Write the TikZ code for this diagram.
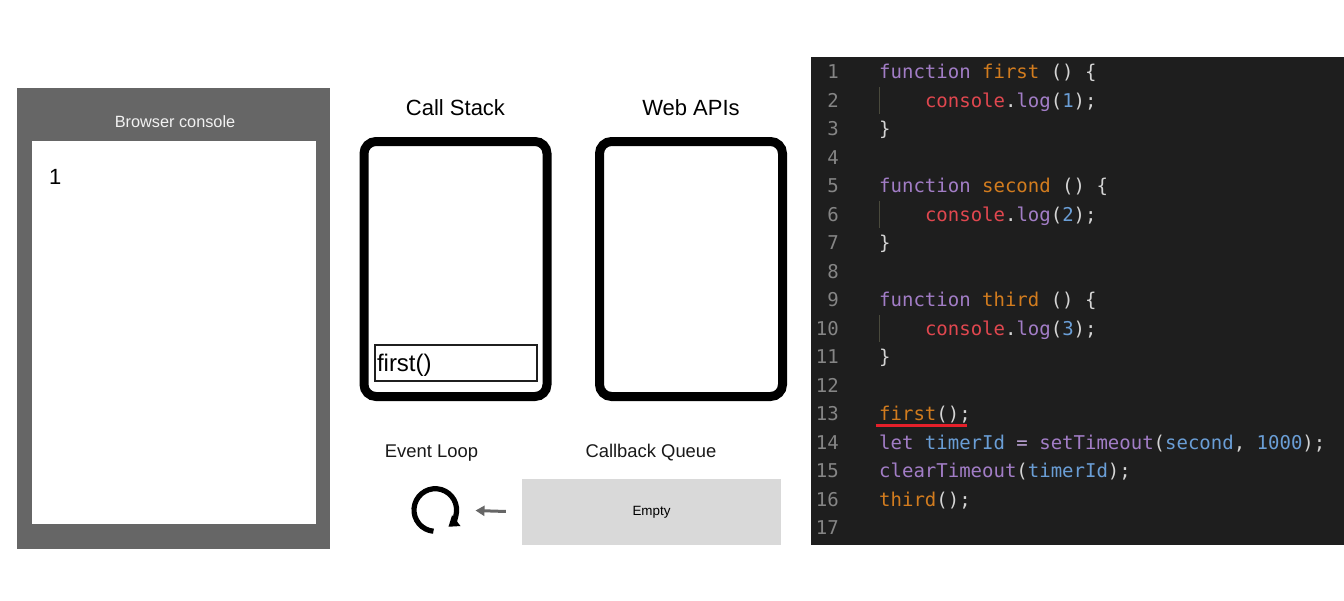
\documentclass[tikz,border=0pt]{standalone}
\usepackage{fontspec}
\setmainfont{Liberation Sans}
\newfontfamily\codefont{DejaVu Sans Mono}
\usetikzlibrary{arrows.meta}
\definecolor{consolegray}{HTML}{666666}
\definecolor{queuegray}{HTML}{D9D9D9}
\definecolor{codebg}{HTML}{1E1E1E}
\definecolor{lnumc}{HTML}{858585}
\definecolor{kw}{HTML}{A27DC6}
\definecolor{fn}{HTML}{D27C1E}
\definecolor{rd}{HTML}{E0474F}
\definecolor{bl}{HTML}{6A9ED6}
\definecolor{pn}{HTML}{D4D4D4}
\definecolor{guide}{HTML}{4A4A3C}
\definecolor{ulred}{HTML}{E5202A}
\definecolor{arrowgray}{HTML}{666666}
\tikzset{
  panel/.style={draw, line width=9pt, rounded corners=12pt, minimum width=183pt, minimum height=255pt, inner sep=0pt},
  title/.style={inner sep=0pt, text=black, font=\fontsize{22}{22}\selectfont},
  label/.style={inner sep=0pt, text=black!90, font=\fontsize{18.4}{18.4}\selectfont},
  codeline/.style={anchor=base west, inner sep=0pt, text=pn, font=\codefont\fontsize{19}{19}\selectfont},
  lnum/.style={anchor=base east, inner sep=0pt, text=lnumc, font=\codefont\fontsize{19}{19}\selectfont},
  flow/.style={draw=arrowgray, line width=3pt, -{Triangle[length=9pt,width=10pt]}}
}
\begin{document}
\begin{tikzpicture}[x=1pt,y=-1pt]
\useasboundingbox (0,0) rectangle (1344,600);
\fill[white] (0,0) rectangle (1344,600);
% Browser console
\node (console) [fill=consolegray, minimum width=313pt, minimum height=461pt, inner sep=0pt] at (173.5,318.5) {};
\node (consolein) [fill=white, minimum width=284pt, minimum height=383pt, inner sep=0pt] at (174,332.5) {};
\node (consoletitle) [inner sep=0pt, text=white!95!black, font=\fontsize{16.3}{16.3}\selectfont] at (175,122) {Browser console};
\node (out1) [anchor=base west, inner sep=0pt, font=\fontsize{22}{22}\selectfont] at (49,184) {1};
% Call stack and Web APIs
\node (cstitle) [title] at (455.5,108) {Call Stack};
\node (wtitle) [title] at (691,108) {Web APIs};
\node (cs) [panel] at (455.5,269) {};
\node (web) [panel] at (691,269) {};
\node (frame1) [draw=black!88, line width=2pt, minimum width=162pt, minimum height=36pt, text width=158pt, text height=21.5pt, text depth=5pt, inner xsep=2pt, inner ysep=0pt, align=left, font=\fontsize{24}{24}\selectfont] at (456,363) {first()};
% Event loop and callback queue
\node (eltitle) [label] at (431.5,453) {Event Loop};
\node (cqtitle) [label] at (651,453) {Callback Queue};
\node (cq) [fill=queuegray, minimum width=259pt, minimum height=66pt, inner sep=0pt, font=\fontsize{13.4}{13.4}\selectfont] at (651.5,512) {Empty};
\node (el) [circle, minimum size=48pt, inner sep=0pt] at (435.3,510) {};
\draw[line width=5.2pt, -{Triangle[length=10pt,width=13pt]}] (el.center) ++(95:21.3) arc[start angle=95, end angle=412, radius=21.3];
\draw[flow, shorten <=16pt, shorten >=16pt] (cq.west) -- (el.east);
% Code panel
\fill[codebg] (811,57) rectangle (1344,545);
\foreach \i in {1,...,17} {
  \node (ln\i) [lnum] at (839,{78.5+(\i-1)*28.5}) {\i};
}
\node (c1) [codeline] at (879,78.5) {\textcolor{kw}{function} \textcolor{fn}{first} () \{};
\node (c2) [codeline] at (924.8,107) {\textcolor{rd}{console}.\textcolor{kw}{log}(\textcolor{bl}{1});};
\node (c3) [codeline] at (879,135.5) {\}};
\node (c5) [codeline] at (879,192.5) {\textcolor{kw}{function} \textcolor{fn}{second} () \{};
\node (c6) [codeline] at (924.8,221) {\textcolor{rd}{console}.\textcolor{kw}{log}(\textcolor{bl}{2});};
\node (c7) [codeline] at (879,249.5) {\}};
\node (c9) [codeline] at (879,306.5) {\textcolor{kw}{function} \textcolor{fn}{third} () \{};
\node (c10) [codeline] at (924.8,335) {\textcolor{rd}{console}.\textcolor{kw}{log}(\textcolor{bl}{3});};
\node (c11) [codeline] at (879,363.5) {\}};
\node (c13) [codeline] at (879,420.5) {\textcolor{fn}{first}();};
\node (c14) [codeline] at (879,449) {\textcolor{kw}{let} \textcolor{bl}{timerId} \textcolor{kw!70!white}{=} \textcolor{kw}{setTimeout}(\textcolor{bl}{second}, \textcolor{bl}{1000});};
\node (c15) [codeline] at (879,477.5) {\textcolor{kw}{clearTimeout}(\textcolor{bl}{timerId});};
\node (c16) [codeline] at (879,506) {\textcolor{fn}{third}();};
% indent guides
\draw[guide, line width=1pt] (879.5,87) -- (879.5,114);
\draw[guide, line width=1pt] (879.5,201) -- (879.5,228);
\draw[guide, line width=1pt] (879.5,315) -- (879.5,342);
% red underline
\draw[ulred, line width=2.5pt] (876,425.5) -- (967,425.5);
\end{tikzpicture}
\end{document}
